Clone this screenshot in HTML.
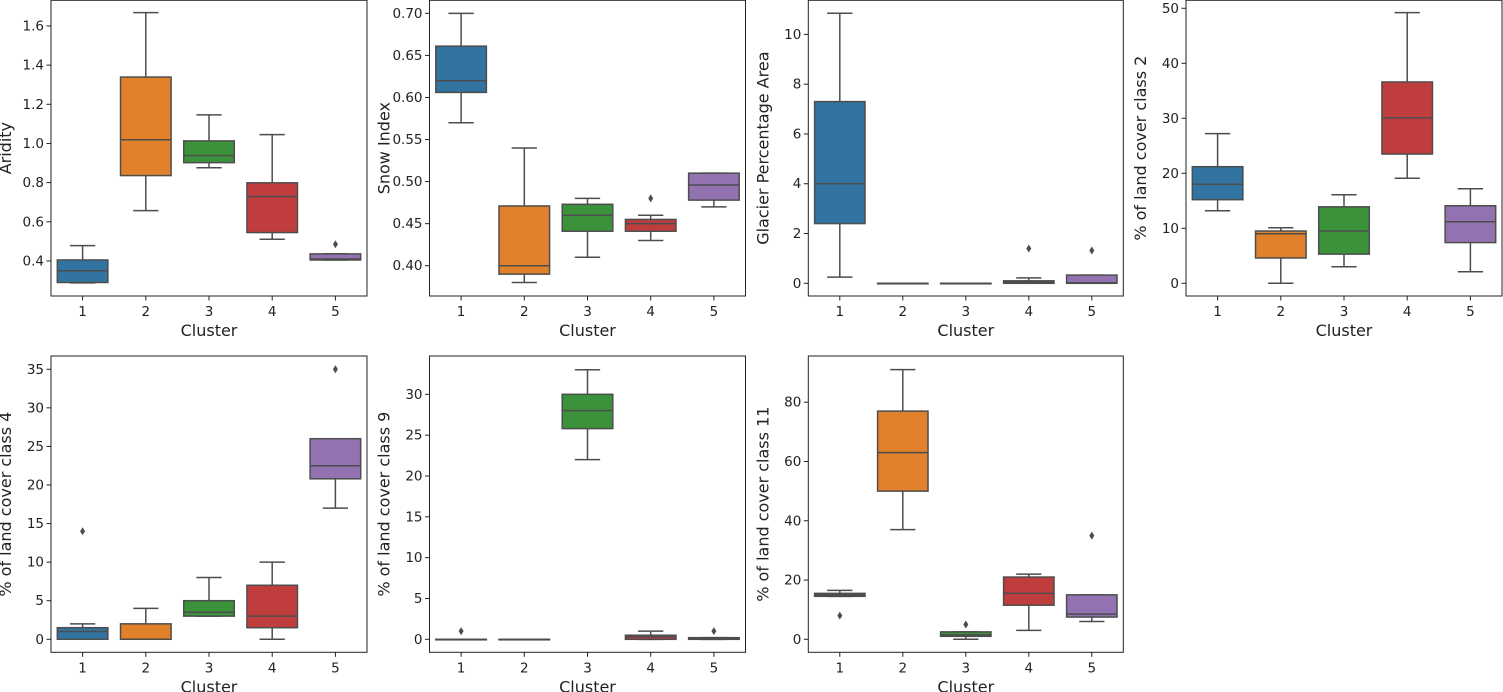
<!DOCTYPE html>
<html><head><meta charset="utf-8">
<style>
html,body{margin:0;padding:0;background:#fff;}
svg{display:block;font-family:"DejaVu Sans","Liberation Sans",sans-serif;}
</style></head>
<body>
<svg id="chart" width="1503" height="692" viewBox="0 0 1503 692" xmlns="http://www.w3.org/2000/svg"></svg>
<script>
const categories = ["1","2","3","4","5"];
const colors = ["#3274a1","#e1812c","#3a923a","#c03d3e","#9372b2"];
// each stat array: [lowWhisker, q1, median, q3, highWhisker] per cluster
const aridityStats = [[0.288,0.29,0.35,0.405,0.478],[0.657,0.836,1.019,1.339,1.668],[0.876,0.902,0.938,1.013,1.146],[0.511,0.545,0.729,0.799,1.045],[0.405,0.405,0.41,0.436,0.436]];
const aridityOutliers = [[],[],[],[],[0.485]];
const aridityTicks = [0.4,0.6,0.8,1.0,1.2,1.4,1.6];
const snowStats = [[0.57,0.606,0.62,0.661,0.70],[0.38,0.39,0.40,0.471,0.54],[0.41,0.441,0.46,0.473,0.48],[0.43,0.441,0.45,0.455,0.46],[0.47,0.478,0.496,0.51,0.51]];
const snowOutliers = [[],[],[],[0.48],[]];
const snowTicks = [0.40,0.45,0.50,0.55,0.60,0.65,0.70];
const glacierStats = [[0.25,2.4,4.0,7.3,10.85],[0,0,0,0,0],[0,0,0,0,0],[0,0,0.05,0.1,0.22],[0,0,0.02,0.33,0.33]];
const glacierOutliers = [[],[],[],[1.4],[1.32]];
const glacierTicks = [0,2,4,6,8,10];
const lc2Stats = [[13.2,15.2,18,21.2,27.2],[0,4.6,9.0,9.5,10.1],[3,5.3,9.5,13.9,16.1],[19.1,23.5,30.1,36.6,49.2],[2.1,7.4,11.2,14.1,17.2]];
const lc2Outliers = [[],[],[],[],[]];
const lc2Ticks = [0,10,20,30,40,50];
const lc4Stats = [[0,0,1,1.5,2.0],[0,0,0,2,4],[3,3,3.5,5,8],[0,1.5,3,7,10],[17,20.8,22.5,26,26]];
const lc4Outliers = [[14],[],[],[],[35]];
const lc4Ticks = [0,5,10,15,20,25,30,35];
const lc9Stats = [[0,0,0,0,0],[0,0,0,0,0],[22,25.8,28,30,33],[0,0,0.3,0.5,1],[0,0,0.1,0.2,0.2]];
const lc9Outliers = [[1],[],[],[],[1]];
const lc9Ticks = [0,5,10,15,20,25,30];
const lc11Stats = [[14.5,14.5,15,15.5,16.5],[37,50,63,77,91],[0,1,1.5,2.5,2.5],[3,11.5,15.5,21,22],[6,7.5,8.5,15,15]];
const lc11Outliers = [[8],[],[5],[],[35]];
const lc11Ticks = [0,20,40,60,80];

const panels = [
 {name:"aridity",label:"Aridity",stats:aridityStats,out:aridityOutliers,ticks:aridityTicks,fmt:v=>v.toFixed(1),x:51,y:0.3,w:316,h:295.7,ymin:0.221,ymax:1.731},
 {name:"snow-index",label:"Snow Index",stats:snowStats,out:snowOutliers,ticks:snowTicks,fmt:v=>v.toFixed(2),x:429.5,y:0.3,w:316,h:295.7,ymin:0.364,ymax:0.7155},
 {name:"glacier",label:"Glacier Percentage Area",stats:glacierStats,out:glacierOutliers,ticks:glacierTicks,fmt:v=>String(v),x:808.3,y:0.3,w:315,h:295.7,ymin:-0.51,ymax:11.37},
 {name:"land-cover-2",label:"% of land cover class 2",stats:lc2Stats,out:lc2Outliers,ticks:lc2Ticks,fmt:v=>String(v),x:1186,y:0.3,w:316,h:295.7,ymin:-2.31,ymax:51.45},
 {name:"land-cover-4",label:"% of land cover class 4",stats:lc4Stats,out:lc4Outliers,ticks:lc4Ticks,fmt:v=>String(v),x:51,y:356,w:316,h:296.3,ymin:-1.69,ymax:36.72},
 {name:"land-cover-9",label:"% of land cover class 9",stats:lc9Stats,out:lc9Outliers,ticks:lc9Ticks,fmt:v=>String(v),x:429.5,y:356,w:316,h:296.3,ymin:-1.59,ymax:34.69},
 {name:"land-cover-11",label:"% of land cover class 11",stats:lc11Stats,out:lc11Outliers,ticks:lc11Ticks,fmt:v=>String(v),x:808.3,y:356,w:315,h:296.3,ymin:-4.39,ymax:95.6}
];
const NS="http://www.w3.org/2000/svg";
const svg=document.getElementById('chart');
function mk(tag,attrs,parent){const e=document.createElementNS(NS,tag);for(const k in attrs)e.setAttribute(k,attrs[k]);(parent||svg).appendChild(e);return e;}
const LINE="#4d4d4d";
panels.forEach(p=>{
  const g=mk('g',{});
  
  
  const yS=v=>p.y+p.h-(v-p.ymin)/(p.ymax-p.ymin)*p.h;
  const band=p.w/categories.length;
  const xS=i=>p.x+(i+0.5)*band;
  const bw=band*0.8;
  p.stats.forEach((s,i)=>{
    const bg=mk('g',{},g);
    
    
    const cx=xS(i);
    mk('line',{x1:cx,x2:cx,y1:yS(s[0]),y2:yS(s[1]),stroke:LINE,'stroke-width':1.5},bg);
    mk('line',{x1:cx,x2:cx,y1:yS(s[3]),y2:yS(s[4]),stroke:LINE,'stroke-width':1.5},bg);
    mk('line',{x1:cx-bw/4,x2:cx+bw/4,y1:yS(s[0]),y2:yS(s[0]),stroke:LINE,'stroke-width':1.5},bg);
    mk('line',{x1:cx-bw/4,x2:cx+bw/4,y1:yS(s[4]),y2:yS(s[4]),stroke:LINE,'stroke-width':1.5},bg);
    const top=yS(s[3]),bot=yS(s[1]);
    mk('rect',{x:cx-bw/2,y:top,width:bw,height:Math.max(bot-top,0.5),fill:colors[i],stroke:LINE,'stroke-width':1.5},bg);
    mk('line',{x1:cx-bw/2,x2:cx+bw/2,y1:yS(s[2]),y2:yS(s[2]),stroke:LINE,'stroke-width':1.5},bg);
    p.out[i].forEach(o=>{
      const d=mk('path',{d:`M${cx},${yS(o)-4} L${cx+2.5},${yS(o)} L${cx},${yS(o)+4} L${cx-2.5},${yS(o)} Z`,fill:LINE},bg);
      
      
    });
  });
  const frame=mk('rect',{x:p.x,y:p.y,width:p.w,height:p.h,fill:'none',stroke:'#222','stroke-width':1},g);
  
  
  p.ticks.forEach(t=>{
    const y=yS(t);
    mk('line',{x1:p.x-4.5,x2:p.x,y1:y,y2:y,stroke:'#222','stroke-width':1},g);
    const tx=mk('text',{x:p.x-7,y:y+4.5,'font-size':13.5,'text-anchor':'end',fill:'#222'},g);
    tx.textContent=p.fmt(t);
    
    
  });
  categories.forEach((c,i)=>{
    const x=xS(i),yb=p.y+p.h;
    mk('line',{x1:x,x2:x,y1:yb,y2:yb+4.5,stroke:'#222','stroke-width':1},g);
    const tx=mk('text',{x:x,y:yb+20,'font-size':13.5,'text-anchor':'middle',fill:'#222'},g);
    tx.textContent=c;
    
    
  });
  const xl=mk('text',{x:p.x+p.w/2,y:p.y+p.h+40,'font-size':16,'text-anchor':'middle',fill:'#222'},g);
  xl.textContent='Cluster';
  
  
  const ly=p.y+p.h/2, lx=p.x-40;
  const yl=mk('text',{x:lx,y:ly,'font-size':16,'text-anchor':'middle',fill:'#222',transform:`rotate(-90 ${lx} ${ly})`},g);
  yl.textContent=p.label;
  
  
});
</script>
</body></html>
